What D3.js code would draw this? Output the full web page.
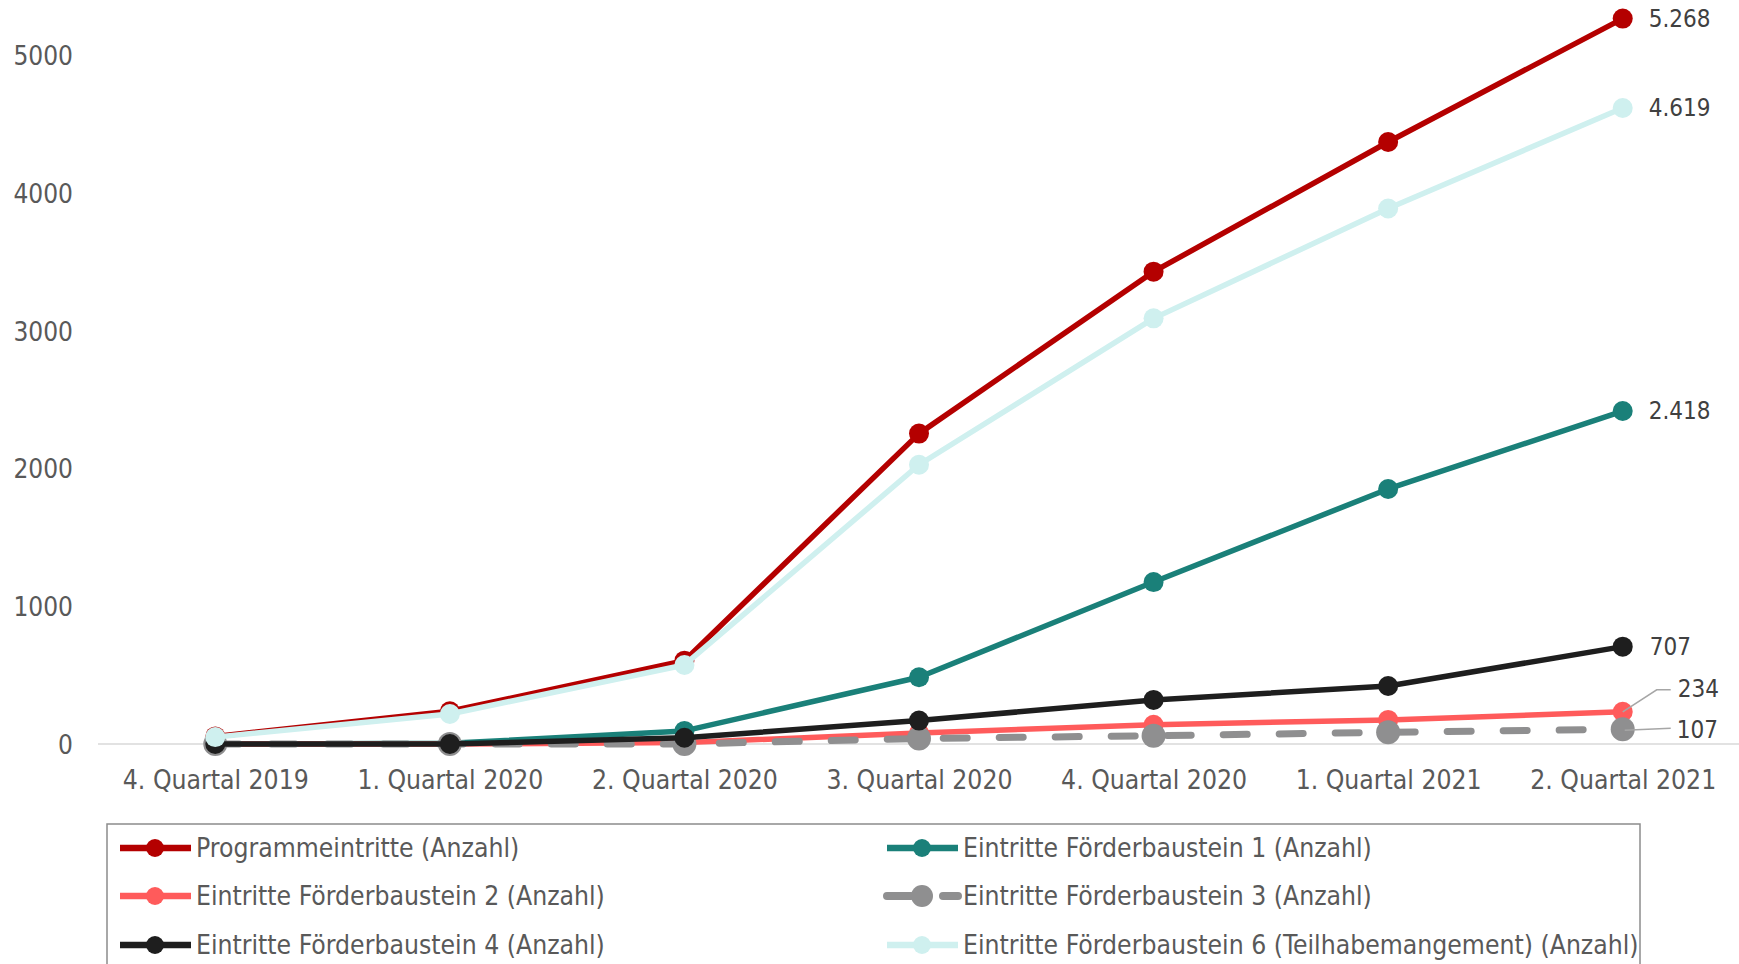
<!DOCTYPE html>
<html><head><meta charset="utf-8">
<script src="https://cdn.jsdelivr.net/npm/d3@7"></script>
<style>
html,body{margin:0;padding:0;background:#fff;}
svg text{font-family:"DejaVu Sans Condensed","DejaVu Sans",sans-serif;font-stretch:condensed;}
</style></head>
<body>
<svg id="chart" width="1739" height="964"></svg>
<script>
const categories = ["4. Quartal 2019","1. Quartal 2020","2. Quartal 2020","3. Quartal 2020","4. Quartal 2020","1. Quartal 2021","2. Quartal 2021"];
const seriesNames = ["Programmeintritte (Anzahl)","Eintritte Förderbaustein 1 (Anzahl)","Eintritte Förderbaustein 2 (Anzahl)","Eintritte Förderbaustein 3 (Anzahl)","Eintritte Förderbaustein 4 (Anzahl)","Eintritte Förderbaustein 6 (Teilhabemangement) (Anzahl)"];
const programmeintritte = [55, 238, 605, 2254, 3430, 4372, 5268];
const foerder1 = [0, 5, 95, 485, 1176, 1852, 2418];
const foerder2 = [0, 0, 10, 80, 140, 175, 234];
const foerder3 = [0, 0, 0, 40, 60, 85, 107];
const foerder4 = [0, 0, 45, 170, 320, 421, 707];
const foerder6 = [50, 218, 574, 2028, 3091, 3889, 4619];
const yTicks = [0, 1000, 2000, 3000, 4000, 5000];
const colors = ["#B40000","#1A8079","#FF5B5B","#8F8F90","#1E1E1E","#CFF0EF"];

const values = [programmeintritte, foerder1, foerder2, foerder3, foerder4, foerder6];
const series = seriesNames.map((n,i)=>({name:n, values:values[i], color:colors[i], dashed:i===3, r: i===3?12:10, w: i===3?7:5.5}));

const svg = d3.select("#chart");
const x = d3.scalePoint().domain(categories).range([98, 1740]).padding(0.5);
const y = d3.scaleLinear().domain([0, 5000]).range([744, 55.5]);
const de = d3.formatLocale({decimal:",", thousands:".", grouping:[3], currency:["","€"]});
const fmt = de.format(",d");

// baseline
svg.append("line").attr("x1", 98).attr("x2", 1740).attr("y1", y(0)).attr("y2", y(0))
  .attr("stroke", "#d9d9d9").attr("stroke-width", 1.5);

// y axis
const yAxis = d3.axisLeft(y).tickValues(yTicks).tickFormat(d3.format("d")).tickSize(0).tickPadding(0);
const yg = svg.append("g").attr("transform", "translate(73,0)").call(yAxis);
yg.select(".domain").remove();
yg.selectAll("text").attr("fill", "#595959").style("font-size", "26px").attr("dy", "0.35em");

// x axis
const xAxis = d3.axisBottom(x).tickSize(0).tickPadding(0);
const xg = svg.append("g").attr("transform", "translate(0,780)").call(xAxis);
xg.select(".domain").remove();
xg.selectAll("text").attr("fill", "#595959").style("font-size", "26.3px").attr("dy", "0.35em");

// lines
const line = d3.line().x((d,i)=>x(categories[i])).y(d=>y(d));
series.forEach(s=>{
  const g = svg.append("g");
  g.append("path").datum(s.values).attr("d", line).attr("fill","none")
    .attr("stroke", s.color).attr("stroke-width", s.w)
    .attr("stroke-linecap", s.dashed ? "round" : "butt")
    .attr("stroke-linejoin","round")
    .attr("stroke-dasharray", s.dashed ? "24,32" : null);
  g.selectAll("circle").data(s.values).join("circle")
    .attr("cx", (d,i)=>x(categories[i])).attr("cy", d=>y(d)).attr("r", s.r).attr("fill", s.color);
});

// data labels at last point
const lastX = x(categories[categories.length-1]);
const labelSpecs = [
  {s:0, dx:26, dy:0, leader:false},
  {s:5, dx:26, dy:0, leader:false},
  {s:1, dx:26, dy:0, leader:false},
  {s:4, dx:27, dy:0, leader:false},
  {s:2, dx:55, dy:-23, leader:true},
  {s:3, dx:54, dy:0, leader:true}
];
labelSpecs.forEach(l=>{
  const v = series[l.s].values[6];
  const py = y(v);
  const ty = py + l.dy;
  if (l.leader) {
    const pts = l.s===2 ? [[lastX, py], [lastX+34, ty+1], [lastX+48, ty+1]] : [[lastX+2, py+1], [lastX+48, py-1]];
    svg.append("path").attr("d", d3.line()(pts)).attr("fill","none").attr("stroke","#a6a6a6").attr("stroke-width",1.5);
  }
  svg.append("text").attr("x", lastX + l.dx).attr("y", ty).attr("dy","0.35em")
    .attr("fill","#404040").style("font-size","24px").text(fmt(v));
});

// legend
svg.append("rect").attr("x",107).attr("y",824).attr("width",1533).attr("height",200)
  .attr("fill","none").attr("stroke","#8c8c8c").attr("stroke-width",1.5);
const legCols = [120, 887];
const legRows = [848, 896, 945];
series.forEach((s,i)=>{
  const lx = legCols[i%2], ly = legRows[Math.floor(i/2)];
  const g = svg.append("g").attr("transform", `translate(${lx},${ly})`);
  g.append("line").attr("x1",0).attr("x2",71).attr("y1",0).attr("y2",0)
    .attr("stroke", s.color).attr("stroke-width", s.w+1)
    .attr("stroke-linecap", s.dashed ? "round":"butt")
    .attr("stroke-dasharray", s.dashed ? "24,32" : null);
  g.append("circle").attr("cx",35).attr("cy",0).attr("r", s.dashed?11:9).attr("fill", s.color);
  g.append("text").attr("x",76).attr("y",0).attr("dy","0.35em").attr("fill","#595959")
    .style("font-size","26.3px").text(s.name);
});
</script>
</body></html>
